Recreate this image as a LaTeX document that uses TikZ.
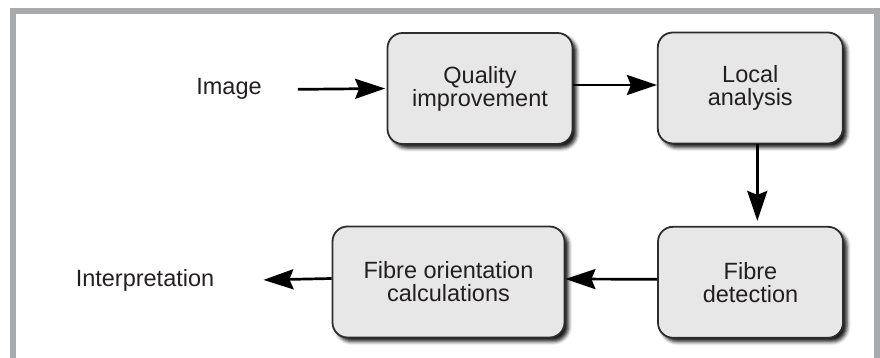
\documentclass[tikz,border=0pt]{standalone}
\usepackage{fontspec}
\setmainfont{Liberation Sans}
\usetikzlibrary{arrows.meta,shadows.blur,calc}
\definecolor{framegray}{RGB}{168,170,173}
\definecolor{boxfill}{RGB}{231,231,231}
\definecolor{boxline}{RGB}{45,45,45}
\definecolor{ink}{RGB}{35,31,32}
\tikzset{
  stage/.style={draw=boxline, line width=1.8pt, fill=boxfill, rounded corners=15pt,
    minimum width=185pt, minimum height=111pt, inner sep=0pt, align=center,
    text=ink, font=\fontsize{23.5}{23}\selectfont,
    blur shadow={shadow xshift=4pt, shadow yshift=-4pt,
      shadow blur radius=3.5pt, shadow opacity=90}},
  label/.style={text=ink, font=\fontsize{23.5}{23}\selectfont, inner sep=0pt, anchor=base},
  flow/.style={draw=black, line width=2.7pt,
    -{Stealth[length=30pt, width=20pt, inset=4pt]}}
}
\begin{document}
\begin{tikzpicture}[x=1pt, y=-1pt]
  \useasboundingbox (0,0) rectangle (880,358);
  % outer frame, open at the bottom
  \draw[framegray, line width=5.5pt]
    (12.8,358) -- (12.8,11.2) -- (877,11.2) -- (877,358);

  % processing stages
  \node[stage] (qual) at (480,88.5)  {Quality\\improvement};
  \node[stage] (loc)  at (750.3,88)  {Local\\analysis};
  \node[stage] (det)  at (750.5,282.3) {Fibre\\detection};
  \node[stage, minimum width=232pt] (ori) at (448.5,282) {Fibre orientation\\calculations};

  % input and output labels
  \node[label] (img)    at (229,95)  {Image};
  \node[label] (interp) at (145,286) {Interpretation};

  % connectors
  \draw[flow] ([xshift=-1.5pt]qual.west) coordinate (q1)
    ($(img.east)+(36,0)$ |- q1) -- (q1);
  \draw[flow] ([yshift=3.5pt]qual.east) -- ([yshift=3pt]loc.west);
  \draw[flow, shorten >=5pt] ([xshift=7pt]loc.south) -- ([xshift=6.8pt]det.north);
  \draw[flow] ([yshift=3pt]det.west) -- ([yshift=3pt]ori.east);
  \draw[flow] ([yshift=3.5pt]ori.west) coordinate (o1)
    -- ($(interp.east)+(49,0)$ |- o1);
\end{tikzpicture}
\end{document}
